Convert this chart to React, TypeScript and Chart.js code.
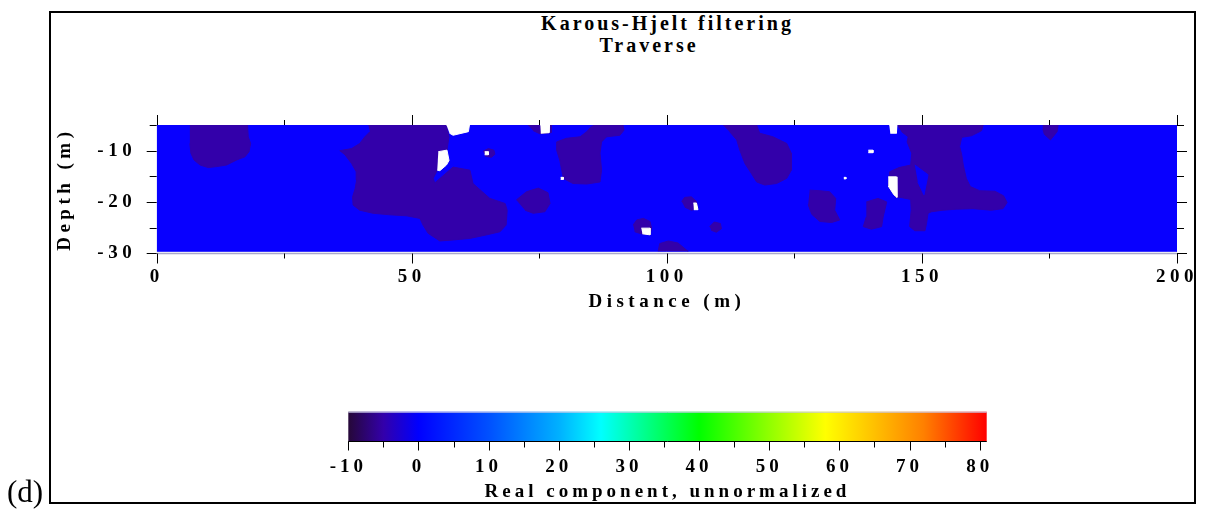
import React, { useEffect, useRef } from 'react';
import { Chart, registerables } from 'chart.js';

Chart.register(...registerables);

type Pt = [number, number]; // [distance (m), depth (m)]

// ---- axes ----
const distanceRange: [number, number] = [0, 200];
const distanceTicks = [0, 50, 100, 150, 200];
const distanceMinorStep = 25;
const depthRange: [number, number] = [-30, -5];
const depthTicks = [-30, -20, -10];
const depthMarks = [-5, -10, -15, -20, -25, -30];

// ---- colour scale ----
const colorbarRange: [number, number] = [-10, 81];
const colorbarTicks = [-10, 0, 10, 20, 30, 40, 50, 60, 70, 80];
const colorbarMinor = [-5, 5, 15, 25, 35, 45, 55, 65, 75];
const colorStopValues = [-10, -5, 0, 10, 20, 26, 40, 50, 58, 65, 72, 81];
const colorStopColors = [
  '#260838', '#3300aa', '#0000ff', '#0050ff', '#00b0ff', '#00ffff',
  '#00ff00', '#90ff00', '#ffff00', '#ffc000', '#ff8000', '#ff0000',
];

// ---- contour fills of the real component ----
const baseLevelColor = '#0800ff';  // about 0
const lowLevelColor = '#3300aa';   // about -5
const blankColor = '#ffffff';

const sectionOutline: Pt[] = [[0, -5], [200, -5], [200, -29.6], [0, -29.6]];

const lowZones: Pt[][] = [
  [[6.5, -5], [17.8, -5], [17.95, -7.3], [18.4, -8.6], [18.1, -10.2], [17.3, -11.2], [15.7, -11.8],
   [13.7, -12.8], [11.8, -13.1], [10.1, -13.3], [8.5, -12.8], [7.3, -11.8], [6.7, -10.5], [6.5, -8.6]],
  [[41.5, -5], [56.8, -5], [57.3, -7.3], [56.9, -9.9], [55.2, -10.2], [55, -13.8], [54.2, -15.4],
   [54.5, -16.3], [58.1, -13.2], [61.4, -13.8], [62, -16.4], [65.3, -19.3], [68.3, -20.3], [68.7, -21.6],
   [68.5, -24.5], [67.3, -25.8], [64.7, -26.4], [61.4, -27.1], [58.1, -27.4], [55.5, -27.6], [53.2, -26.1],
   [52.2, -24.5], [51.6, -23.2], [49, -22.7], [45.7, -22.5], [42.4, -22.2], [39.8, -21.6], [38.5, -20.6],
   [38.4, -19], [38.9, -17.4], [39.2, -15.7], [39.1, -14.1], [38.2, -12.5], [36.9, -10.8], [35.9, -10],
   [38.2, -9.6], [39.8, -8.6], [40.8, -7.3], [41.8, -6.3]],
  [[64.0, -10.1], [65.0, -9.6], [66.1, -9.9], [66.3, -10.7], [65.6, -11.3], [64.4, -11.1]],
  [[72.8, -5], [77.4, -5], [77.3, -6.5], [75.1, -6.7], [73.8, -6.1]],
  [[85.6, -5], [91.4, -5], [91.6, -6], [90.8, -7], [88.2, -7.3], [87.2, -8.3], [86.9, -10.5], [87.2, -13.8],
   [86.9, -16.1], [84.3, -16.5], [81.6, -16.4], [79.7, -15.4], [79.4, -13.8], [79, -11.8], [78.4, -9.9],
   [78.4, -8.3], [80.3, -7.6], [83, -7.3], [84.3, -6.3], [85.2, -5.3]],
  [[70.5, -19.6], [72.5, -18], [74.8, -17.3], [76.7, -18.2], [77.1, -20.3], [76.1, -21.9], [73.8, -22.2], [72.2, -21.6]],
  [[93.4, -24.5], [94.1, -23.5], [95.4, -23.2], [96.7, -23.8], [97, -25.1], [96.7, -26.4], [95, -26.2], [93.7, -25.8]],
  [[98.3, -29.6], [98.6, -28.1], [100.3, -27.6], [102.2, -28], [103.9, -29.4], [104.2, -29.6]],
  [[102.9, -19.9], [103.5, -19.1], [104.8, -19], [105.8, -19.9], [106.1, -21.3], [104.8, -21.6], [103.5, -21]],
  [[108.4, -24.8], [109.3, -23.9], [110.5, -24.2], [110.7, -25.2], [109.7, -25.9], [108.7, -25.5]],
  [[111, -5], [117.6, -5], [118.2, -6.6], [120.8, -7.3], [123.5, -8.6], [124.4, -10.5], [124.4, -13.8],
   [123.5, -15.4], [121.5, -16.4], [119.2, -16.7], [117.6, -16.1], [116.6, -14.5], [115.3, -12.5],
   [114.3, -9.9], [113.7, -7.9], [112.3, -6.3]],
  [[128, -17.7], [130, -17.8], [131.9, -18], [133.1, -19.3], [132.9, -21.6], [133.9, -23.5], [132.3, -24],
   [130, -23.8], [128.4, -22.4], [127.7, -20.5]],
  [[139.1, -20], [141.4, -19.3], [143.1, -20], [142.4, -22.9], [142.1, -24.8], [140.1, -25.3], [138.5, -24.8], [139.1, -22.9]],
  [[145.1, -5], [162, -5], [161.7, -6.1], [159.7, -7.1], [157.8, -7.4], [157.4, -9.2], [157.8, -10.8],
   [158.1, -12.8], [158.7, -15.4], [159.5, -17], [161.3, -17.8], [164.3, -17.9], [166, -18.8], [166.7, -20.1],
   [165.9, -21.3], [163.6, -21.6], [160, -21.3], [156.8, -21.4], [154.1, -21.6], [151.9, -21.9], [151.2, -22.2],
   [150.9, -24.2], [150.6, -25.6], [148.6, -25.6], [147.6, -24.8], [147.9, -21.6], [147.8, -19.5],
   [145.7, -19.1], [144.9, -19.1], [143.4, -16.9], [143.7, -14.1], [145.5, -13.3], [147.8, -12.8],
   [148, -10.5], [147.1, -8.3], [147.3, -7.3], [146, -6.3]],
  [[173.7, -5], [176.7, -5], [176.5, -6.3], [175.2, -7.9], [174, -6.8], [173.7, -5.8]],
];

const highPockets: Pt[][] = [
  [[148.6, -12.8], [151.2, -14.7], [150.4, -18.6], [149.2, -16.1]],
];

const blankPatches: Pt[][] = [
  [[55.2, -10.2], [56.9, -9.9], [57.3, -11.9], [56.8, -12.8], [55.5, -13.9], [55, -13.8]],
  [[56.8, -5], [61.3, -5], [61.1, -6.3], [58.1, -7], [57.4, -6.6]],
  [[64.3, -10.2], [65, -10.2], [65, -10.8], [64.3, -10.8]],
  [[75.2, -5], [77.0, -5], [76.9, -6.5], [75.3, -6.6]],
  [[79.2, -15.2], [79.7, -15.2], [79.7, -15.6], [79.2, -15.6]],
  [[95, -25.1], [96.7, -25.1], [96.7, -26.4], [95.2, -26.2]],
  [[105.2, -20.2], [105.8, -20.2], [106.1, -21.5], [105.3, -21.5]],
  [[134.7, -15.2], [135.1, -15.2], [135.1, -15.5], [134.7, -15.5]],
  [[139.5, -9.9], [140.4, -9.9], [140.4, -10.4], [139.5, -10.4]],
  [[143.6, -5], [145.1, -5], [145.0, -6.6], [143.8, -6.6]],
  [[143.4, -15.1], [145, -15.1], [145.1, -19.1], [144.5, -18.6], [143.4, -16.9]],
];

const serif = "'Liberation Serif', 'Times New Roman', serif";
const labelFont = { family: serif, size: 19, weight: 'bold' as const, lineHeight: 1.2 };

const area = (poly: Pt[], color: string, order: number) => ({
  data: poly.map(([x, y]) => ({ x, y })),
  showLine: true,
  fill: 'shape',
  backgroundColor: color,
  borderColor: color,
  borderWidth: 1,
  pointRadius: 0,
  tension: 0,
  order,
});

const spacedText = (spacing: string) => ({
  id: 'spacedText',
  beforeLayout(chart: any) { chart.ctx.letterSpacing = spacing; },
  beforeDraw(chart: any) { chart.ctx.letterSpacing = spacing; },
});

// tick marks on all four sides of the section, plus the base line
const sectionTicks = {
  id: 'sectionTicks',
  afterDraw(chart: any) {
    const { ctx, chartArea: a, scales: { x, y } } = chart;
    ctx.save();
    ctx.letterSpacing = '0px';
    const yBase = Math.round(y.getPixelForValue(depthRange[0])) + 0.5;
    ctx.strokeStyle = '#a9a9c9';
    ctx.lineWidth = 1.5;
    ctx.beginPath();
    ctx.moveTo(a.left, yBase);
    ctx.lineTo(a.right, yBase);
    ctx.stroke();

    ctx.strokeStyle = '#000';
    ctx.lineWidth = 1;
    ctx.beginPath();
    for (let v = distanceRange[0]; v <= distanceRange[1]; v += distanceMinorStep) {
      const px = Math.round(x.getPixelForValue(v)) + 0.5;
      const len = distanceTicks.includes(v) ? 10 : 5;
      ctx.moveTo(px, yBase);
      ctx.lineTo(px, yBase + len);
      ctx.moveTo(px, a.top);
      ctx.lineTo(px, a.top - len);
    }
    for (const v of depthMarks) {
      const py = Math.round(y.getPixelForValue(v)) + 0.5;
      const len = depthTicks.includes(v) ? 10 : 7;
      ctx.moveTo(a.left, py);
      ctx.lineTo(a.left - len, py);
      ctx.moveTo(a.right, py);
      ctx.lineTo(a.right + len, py);
    }
    ctx.stroke();
    ctx.restore();
  },
};

// colour ramp painted along the value scale
const colorRamp = {
  id: 'colorRamp',
  beforeDatasetsDraw(chart: any) {
    const { ctx, chartArea: a, scales: { x } } = chart;
    ctx.save();
    const g = ctx.createLinearGradient(a.left, 0, a.right, 0);
    colorStopValues.forEach((v, i) => {
      const t = (x.getPixelForValue(v) - a.left) / (a.right - a.left);
      g.addColorStop(Math.min(1, Math.max(0, t)), colorStopColors[i]);
    });
    ctx.fillStyle = g;
    ctx.fillRect(a.left, a.top, a.right - a.left, a.bottom - a.top);
    ctx.strokeStyle = '#c8c8e8';
    ctx.lineWidth = 1;
    ctx.beginPath();
    ctx.moveTo(a.left, a.top + 0.5);
    ctx.lineTo(a.right, a.top + 0.5);
    ctx.stroke();
    ctx.strokeStyle = '#000';
    ctx.beginPath();
    const yb = Math.round(a.bottom) - 0.5;
    ctx.moveTo(a.left, yb);
    ctx.lineTo(a.right, yb);
    for (const v of colorbarTicks) {
      const px = Math.round(x.getPixelForValue(v)) + 0.5;
      ctx.moveTo(px, yb);
      ctx.lineTo(px, yb + 9);
    }
    for (const v of colorbarMinor) {
      const px = Math.round(x.getPixelForValue(v)) + 0.5;
      ctx.moveTo(px, yb);
      ctx.lineTo(px, yb + 6);
    }
    ctx.stroke();
    ctx.restore();
  },
};

function sectionConfig(): any {
  return {
    type: 'scatter',
    data: {
      datasets: [
        area(sectionOutline, baseLevelColor, 4),
        ...lowZones.map((p) => area(p, lowLevelColor, 3)),
        ...highPockets.map((p) => area(p, baseLevelColor, 2)),
        ...blankPatches.map((p) => area(p, blankColor, 1)),
      ],
    },
    options: {
      responsive: false,
      animation: false,
      events: [],
      layout: { padding: { left: 54.1, right: 32.7, top: 125, bottom: 196.6 } },
      plugins: { legend: { display: false }, tooltip: { enabled: false }, title: { display: false } },
      scales: {
        x: {
          type: 'linear',
          position: 'bottom',
          min: distanceRange[0],
          max: distanceRange[1],
          afterBuildTicks: (s: any) => { s.ticks = distanceTicks.map((value) => ({ value })); },
          afterFit: (s: any) => { s.height = 60.1; },
          grid: { display: false, drawTicks: false },
          border: { display: false },
          ticks: { padding: 12, color: '#000', font: labelFont, maxRotation: 0, autoSkip: false },
          title: { display: true, text: 'Distance (m)', color: '#000', font: labelFont, padding: 0 },
        },
        y: {
          type: 'linear',
          position: 'left',
          min: depthRange[0],
          max: depthRange[1],
          afterBuildTicks: (s: any) => { s.ticks = depthTicks.map((value) => ({ value })); },
          afterFit: (s: any) => { s.width = 102.6; },
          grid: { display: false, drawTicks: false },
          border: { display: false },
          ticks: { padding: 20.5, color: '#000', font: labelFont, autoSkip: false },
          title: { display: true, text: 'Depth (m)', color: '#000', font: labelFont, padding: 0 },
        },
      },
    },
    plugins: [spacedText('4.5px'), sectionTicks],
  };
}

function colorbarConfig(): any {
  return {
    type: 'scatter',
    data: { datasets: [] },
    options: {
      responsive: false,
      animation: false,
      events: [],
      layout: { padding: { left: 348.3, right: 223.3, top: 31.7, bottom: 6.6 } },
      plugins: { legend: { display: false }, tooltip: { enabled: false }, title: { display: false } },
      scales: {
        x: {
          type: 'linear',
          position: 'bottom',
          min: colorbarRange[0],
          max: colorbarRange[1],
          afterBuildTicks: (s: any) => { s.ticks = colorbarTicks.map((value) => ({ value })); },
          afterFit: (s: any) => { s.height = 61.7; },
          grid: { display: false, drawTicks: false },
          border: { display: false },
          ticks: { padding: 13.6, color: '#000', font: labelFont, maxRotation: 0, autoSkip: false },
          title: { display: true, text: 'Real component, unnormalized', color: '#000', font: labelFont, padding: 0 },
        },
        y: { display: false, min: 0, max: 1 },
      },
    },
    plugins: [spacedText('4px'), colorRamp],
  };
}

const titleLine: React.CSSProperties = {
  position: 'absolute',
  width: 600,
  textAlign: 'center',
  fontFamily: serif,
  fontWeight: 'bold',
  fontSize: 20,
  letterSpacing: '3px',
  lineHeight: '24px',
  color: '#000',
  whiteSpace: 'nowrap',
};

export default function App() {
  const sectionRef = useRef<HTMLCanvasElement>(null);
  const barRef = useRef<HTMLCanvasElement>(null);

  useEffect(() => {
    const section = new Chart(sectionRef.current as HTMLCanvasElement, sectionConfig());
    const bar = new Chart(barRef.current as HTMLCanvasElement, colorbarConfig());
    return () => {
      section.destroy();
      bar.destroy();
    };
  }, []);

  return (
    <div style={{ position: 'fixed', left: 0, top: 0, width: 1210, height: 510, background: '#fff', overflow: 'hidden' }}>
      <div
        style={{
          position: 'absolute', left: 49, top: 11, width: 1147, height: 493,
          border: '2px solid #000', boxSizing: 'border-box',
        }}
      />
      <div style={{ ...titleLine, left: 667.5 - 300, top: 11.3 }}>Karous-Hjelt filtering</div>
      <div style={{ ...titleLine, left: 649 - 300, top: 33.3 }}>Traverse</div>
      <canvas ref={sectionRef} width={1210} height={510} style={{ position: 'absolute', left: 0, top: 0 }} />
      <canvas ref={barRef} width={1210} height={130} style={{ position: 'absolute', left: 0, top: 380 }} />
      <div
        style={{
          position: 'absolute', left: 7, top: 476, fontFamily: serif, fontSize: 31,
          lineHeight: '31px', color: '#000',
        }}
      >
        (d)
      </div>
    </div>
  );
}
